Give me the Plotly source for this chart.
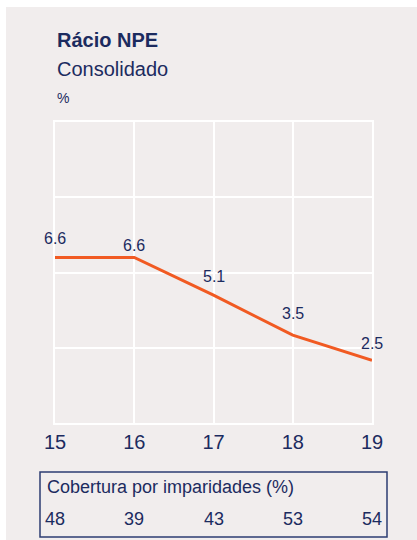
import plotly.graph_objects as go

years = [15, 16, 17, 18, 19]
tick_labels = ["15", "16", "17", "18", "19"]
npe_ratio = [6.6, 6.6, 5.1, 3.5, 2.5]
coverage = [48, 39, 43, 53, 54]

title = "Rácio NPE"
subtitle = "Consolidado"
unit = "%"
coverage_title = "Cobertura por imparidades (%)"

NAVY = "#1c2b5f"
ORANGE = "#f15a22"
PANEL = "#f1eded"
NARROW = "Liberation Sans Narrow, Arial Narrow, Liberation Sans, Arial, sans-serif"
SANS = "Liberation Sans, Arial, Helvetica, sans-serif"

W, H = 417, 540
L, R, T, B = 55, 372, 122, 423
pw, ph = R - L, B - T

def px(x):
    return (x - L) / pw

def py(y):
    return (B - y) / ph

fig = go.Figure()
fig.add_trace(go.Scatter(
    x=years, y=npe_ratio, mode="lines",
    line=dict(color=ORANGE, width=3), hoverinfo="skip", showlegend=False,
))

label_shift = [19, 12, 19, 22, 17]
annotations = []
for xv, yv, s in zip(years, npe_ratio, label_shift):
    annotations.append(dict(
        x=xv, y=yv, xref="x", yref="y", text=f"{yv:.1f}", showarrow=False,
        yshift=s, yanchor="middle", font=dict(family=NARROW, size=16, color=NAVY),
    ))
for xv, cv in zip(years, coverage):
    annotations.append(dict(
        x=xv, y=py(519), xref="x", yref="paper", text=str(cv), showarrow=False,
        yanchor="middle", font=dict(family=NARROW, size=18, color=NAVY),
    ))
annotations += [
    dict(x=0, y=py(40), xref="paper", yref="paper", text=f"<b>{title}</b>",
         showarrow=False, xanchor="left", yanchor="middle",
         font=dict(family=SANS, size=20, color=NAVY)),
    dict(x=0, y=py(69), xref="paper", yref="paper", text=subtitle,
         showarrow=False, xanchor="left", yanchor="middle",
         font=dict(family=SANS, size=20, color=NAVY)),
    dict(x=0, y=py(98), xref="paper", yref="paper", text=unit,
         showarrow=False, xanchor="left", yanchor="middle",
         font=dict(family=SANS, size=14, color=NAVY)),
    dict(x=px(45), y=py(487), xref="paper", yref="paper", text=coverage_title,
         showarrow=False, xanchor="left", yanchor="middle",
         font=dict(family=SANS, size=18, color=NAVY)),
]

shapes = [
    dict(type="rect", xref="paper", yref="paper", x0=px(6), x1=px(430),
         y0=py(560), y1=py(7), fillcolor=PANEL, line=dict(width=0), layer="below"),
    dict(type="rect", xref="paper", yref="paper", x0=px(40), x1=px(387),
         y0=py(537), y1=py(472), line=dict(color="#2c3d72", width=1.5)),
]

fig.update_layout(
    width=W, height=H,
    margin=dict(l=L, r=W - R, t=T, b=H - B, pad=0),
    paper_bgcolor="white", plot_bgcolor=PANEL,
    annotations=annotations, shapes=shapes,
    xaxis=dict(range=[15, 19], tickvals=years, ticktext=tick_labels,
               showgrid=True, gridcolor="white", gridwidth=2,
               showline=True, linecolor="white", linewidth=2, mirror=True,
               zeroline=False, ticks="",
               tickfont=dict(family=SANS, size=20, color=NAVY)),
    yaxis=dict(range=[0, 12], dtick=3, showticklabels=False,
               showgrid=True, gridcolor="white", gridwidth=2,
               showline=True, linecolor="white", linewidth=2, mirror=True,
               zeroline=False, ticks=""),
)

fig.write_html(
    "out.html",
    config={"displayModeBar": False, "staticPlot": True},
    post_script="document.body.style.margin='0';document.body.style.overflow='hidden';",
)
